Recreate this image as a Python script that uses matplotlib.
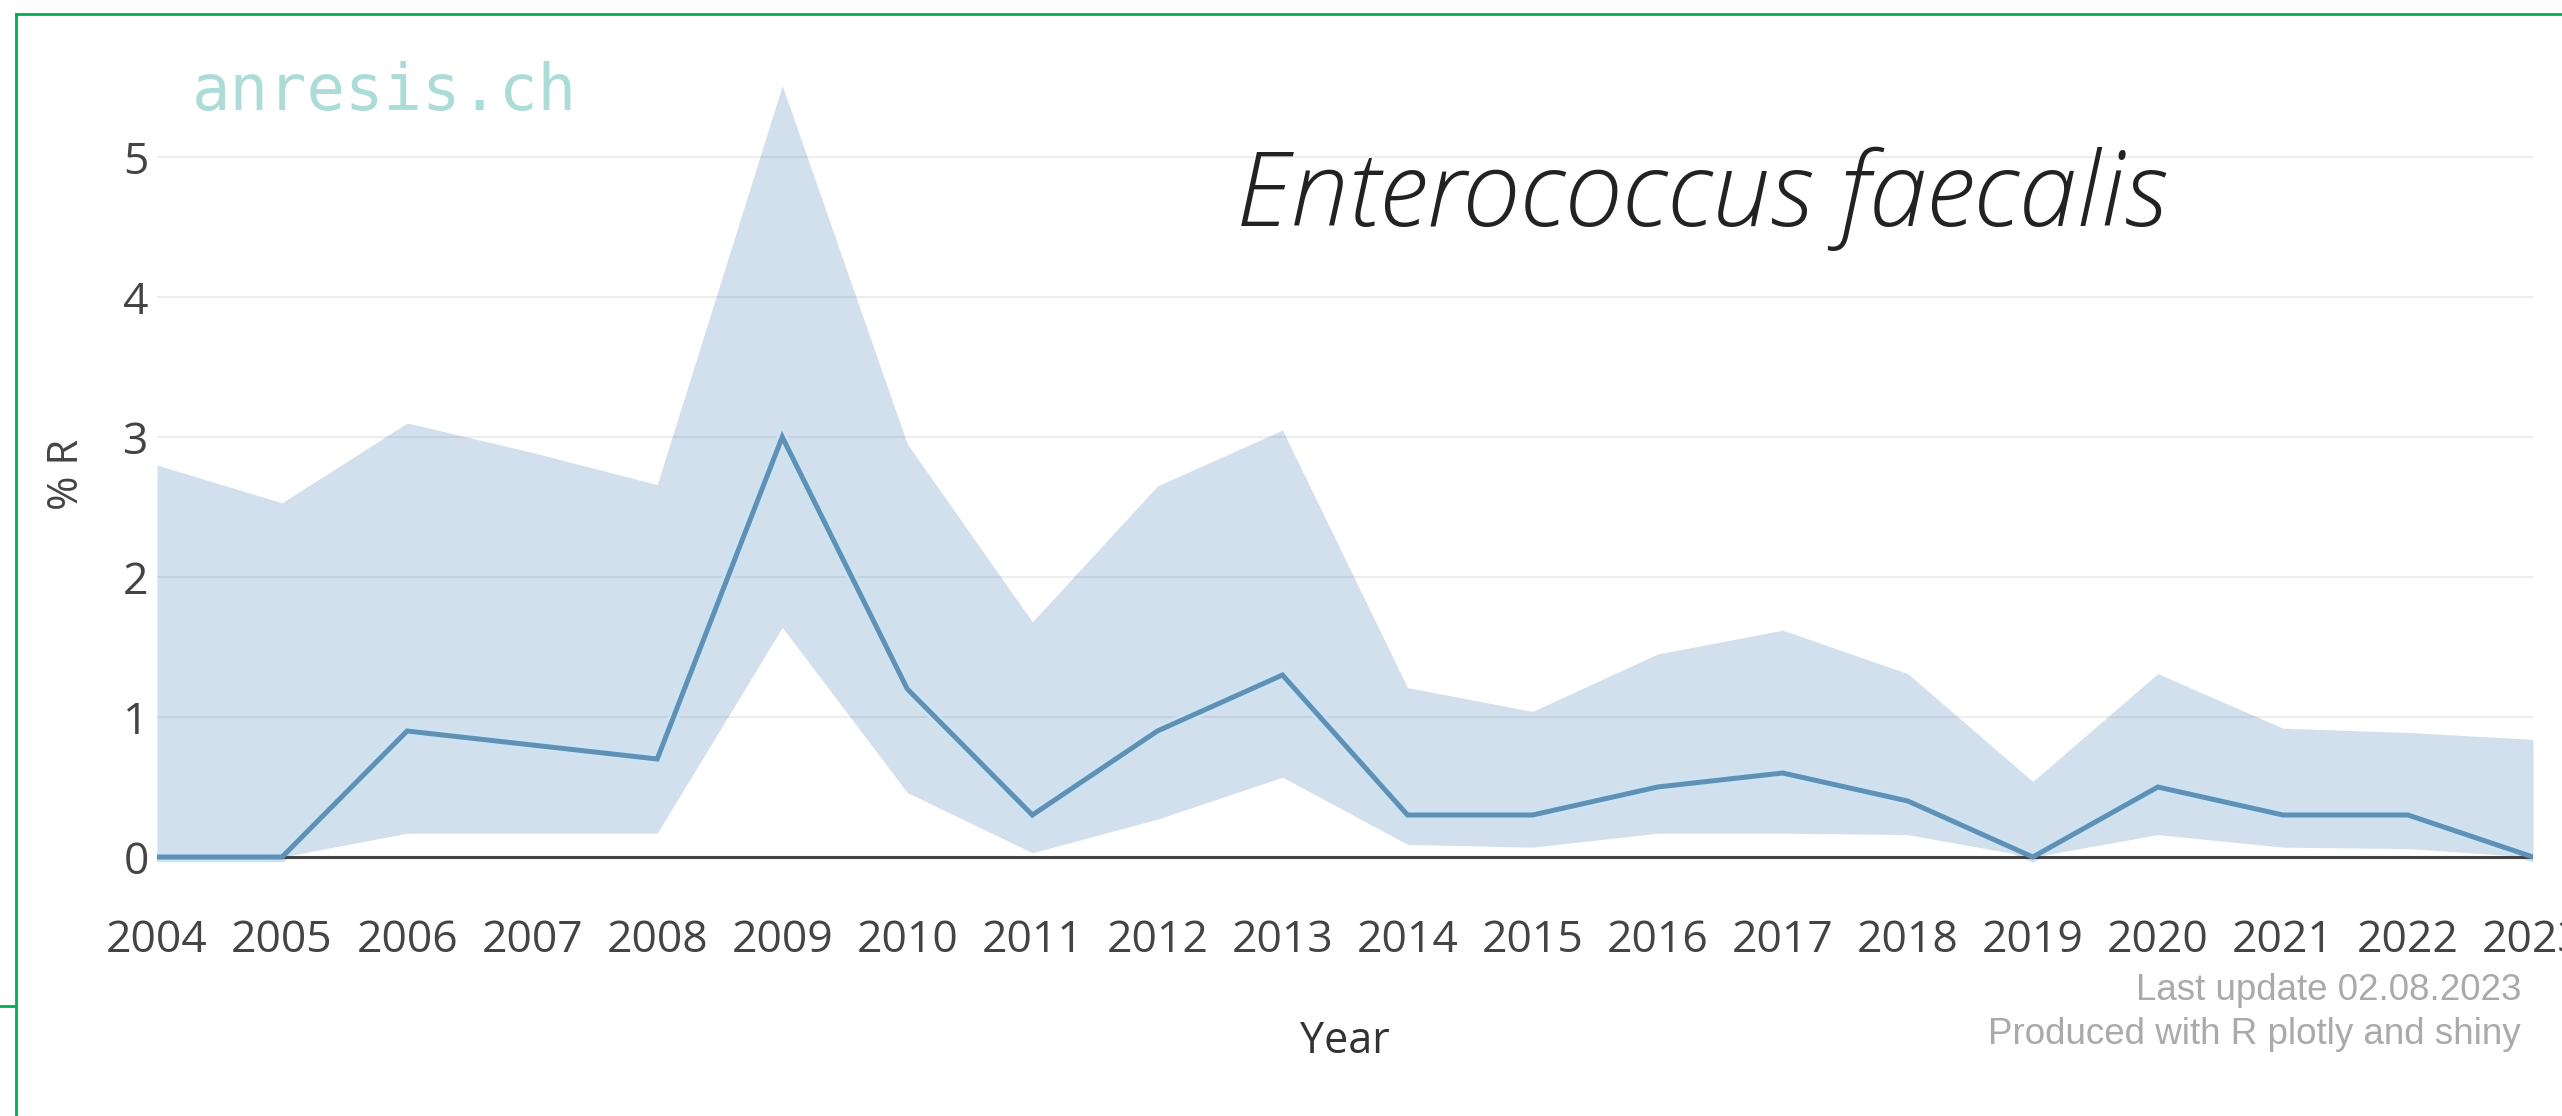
import numpy as np
import matplotlib.pyplot as plt
from matplotlib.lines import Line2D

# dati (anresis.ch, Enterococcus faecalis)
anni = [2004, 2005, 2006, 2007, 2008, 2009, 2010, 2011, 2012, 2013,
        2014, 2015, 2016, 2017, 2018, 2019, 2020, 2021, 2022, 2023]
perc_R = [0.0, 0.0, 0.9, 0.8, 0.7, 3.0, 1.2, 0.3, 0.9, 1.3,
          0.3, 0.3, 0.5, 0.6, 0.4, 0.0, 0.5, 0.3, 0.3, 0.0]
ic_sup = [2.80, 2.53, 3.10, 2.89, 2.66, 5.51, 2.95, 1.68, 2.65, 3.05,
          1.21, 1.04, 1.45, 1.62, 1.31, 0.54, 1.31, 0.92, 0.89, 0.84]
ic_inf = [0.0, 0.0, 0.17, 0.17, 0.17, 1.64, 0.46, 0.03, 0.27, 0.57,
          0.09, 0.07, 0.17, 0.17, 0.16, 0.0, 0.16, 0.07, 0.06, 0.0]
y_ticks = [0, 1, 2, 3, 4, 5]

titolo = "Enterococcus faecalis"
note = ["Last update 02.08.2023", "Produced with R plotly and shiny"]

W, H = 2562, 1116
fig = plt.figure(figsize=(W / 100, H / 100), dpi=100)
ax = fig.add_axes([157 / W, 245 / H, (2533 - 157) / W, (1071 - 245) / H])

# banda di confidenza e linea
ax.fill_between(anni, ic_inf, ic_sup, color="#1f66a6", alpha=0.2, linewidth=0, zorder=2)
ax.plot(anni, perc_R, color="#cbe4f5", lw=7.5, solid_joinstyle="miter", zorder=3)
ax.axhline(0, color="#444444", lw=2.2, zorder=3)
ax.plot(anni, perc_R, color="#6190b5", lw=3.6, solid_joinstyle="miter", zorder=4)

ax.set_xlim(2004, 2023)
ax.set_ylim(-0.1, 5.8)
ax.set_xticks(anni)
ax.set_xticklabels([str(a) for a in anni])
ax.set_yticks(y_ticks)
ax.grid(axis="y", color="#eeeeee", lw=1.5, zorder=1)
ax.set_axisbelow(True)
for s in ax.spines.values():
    s.set_visible(False)
ax.tick_params(length=0, labelsize=32, labelcolor="#444444")
ax.tick_params(axis="x", pad=34)
ax.tick_params(axis="y", pad=6)
for lab in ax.get_xticklabels() + ax.get_yticklabels():
    lab.set_fontfamily("Open Sans")

ax.set_xlabel("Year", fontsize=31, color="#333333", family="Open Sans")
ax.xaxis.set_label_coords(0.5, -0.18)
ax.set_ylabel("% R", fontsize=30, color="#444444", family="Open Sans")
ax.yaxis.set_label_coords(-0.029, 0.48)

# testi
fig.text(384 / W, 1 - 92 / H, "anresis.ch", fontsize=46, color="#acdcd8",
         family="DejaVu Sans Mono", ha="center", va="center")
fig.text(1701 / W, 1 - 226 / H, titolo, fontsize=75, style="italic", weight="light",
         family="Open Sans", color="#222222", ha="center", va="baseline")
fig.text(2521 / W, 1 - 990 / H, note[0], fontsize=26.5, color="#aaaaaa",
         family="Liberation Sans", ha="right", va="center")
fig.text(2521 / W, 1 - 1035 / H, note[1], fontsize=26.5, color="#aaaaaa",
         family="Liberation Sans", ha="right", va="center")

# cornice verde
verde = "#00b050"
fig.add_artist(Line2D([16 / W, 1], [1 - 14 / H, 1 - 14 / H], color=verde, lw=2))
fig.add_artist(Line2D([16 / W, 16 / W], [0, 1 - 14 / H], color=verde, lw=2))
fig.add_artist(Line2D([0, 16 / W], [1 - 1006 / H, 1 - 1006 / H], color=verde, lw=2))

fig.savefig("out.png", dpi=100)
